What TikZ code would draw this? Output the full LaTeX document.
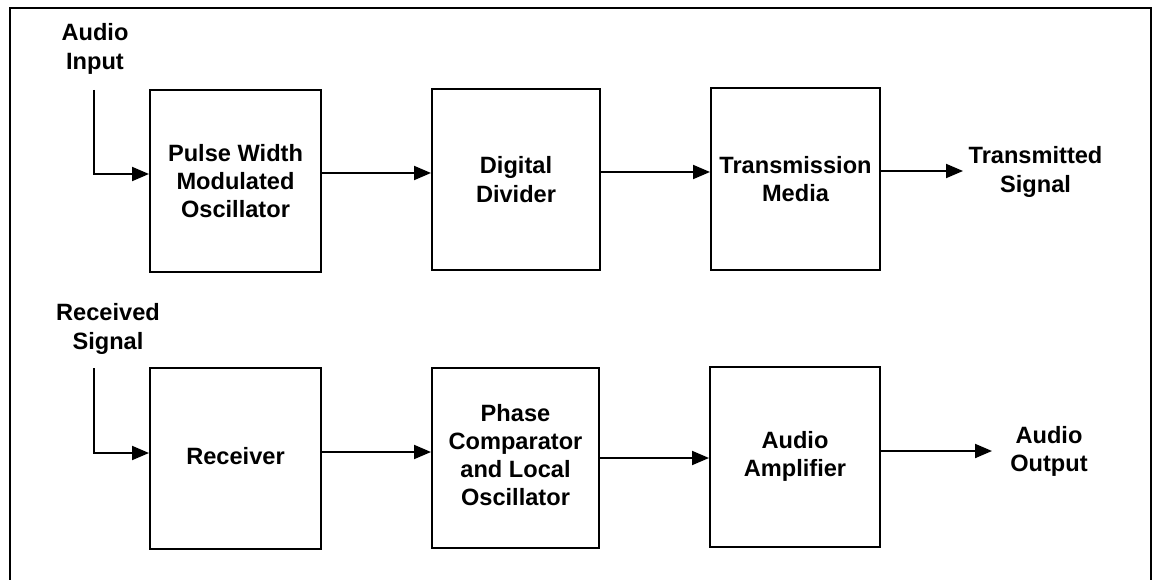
\documentclass[tikz,border=0pt]{standalone}
\usepackage{fontspec}
\setmainfont{Liberation Sans}
\usetikzlibrary{arrows.meta,calc}
\begin{document}
\begin{tikzpicture}[x=1pt,y=1pt,
  txt/.style={font=\fontsize{23.6}{28.2}\selectfont\bfseries,align=center},
  blk/.style={txt,draw,line width=2pt,minimum width=169pt,minimum height=181pt,inner sep=0pt},
  lbl/.style={txt,inner sep=0pt},
  arr/.style={line width=2pt,-{Triangle[length=17pt,width=14pt]}},
  frame/.style={line width=2.6pt}]
\useasboundingbox (0,0) rectangle (1155,579);
% frame
\coordinate (fbl) at (10,-2);
\coordinate (ftl) at (10,571);
\coordinate (ftr) at (1151,571);
\coordinate (fbr) at (1151,-2);
\draw[frame] (fbl) -- (ftl) -- (ftr) -- (fbr);
% top row
\node[blk,minimum width=171pt,minimum height=182pt] (pwm) at (235.5,398) {Pulse Width\\Modulated\\Oscillator};
\node[blk,minimum width=168pt] (dd) at (516,399.5) {Digital\\Divider};
\node[blk,minimum height=182pt] (tm) at (795.5,400) {Transmission\\Media};
\node[lbl] (ain) at (95,530) {Audio\\Input};
\node[lbl] (tsig) at (1035.5,407) {Transmitted\\Signal};
% bottom row
\node[blk,minimum width=171pt] (rec) at (235.5,120.5) {\raisebox{5pt}{Receiver}};
\node[blk,minimum width=167pt,minimum height=180pt] (pc) at (515.5,121) {\raisebox{5pt}{\begin{tabular}{@{}c@{}}Phase\\Comparator\\and Local\\Oscillator\end{tabular}}};
\node[blk,minimum width=170pt,minimum height=180pt] (aa) at (795,122) {\raisebox{6pt}{\begin{tabular}{@{}c@{}}Audio\\Amplifier\end{tabular}}};
\node[lbl] (rsig) at (108,250) {Received\\Signal};
\node[lbl] (aout) at (1049,128) {Audio\\Output};
% connectors top
\coordinate (inA) at (94,489);
\coordinate (inAc) at (94,405);
\draw[arr] (inA) -- (inAc) -- (inAc -| pwm.west);
\coordinate (yA1) at (0,406);
\draw[arr] (pwm.east |- yA1) -- (dd.west |- yA1);
\coordinate (yA2) at (0,407);
\draw[arr] (dd.east |- yA2) -- (tm.west |- yA2);
\coordinate (outT) at (963,408);
\draw[arr] (tm.east |- outT) -- (outT);
% connectors bottom
\coordinate (inB) at (94,211);
\coordinate (inBc) at (94,126);
\draw[arr] (inB) -- (inBc) -- (inBc -| rec.west);
\coordinate (yB1) at (0,127);
\draw[arr] (rec.east |- yB1) -- (pc.west |- yB1);
\coordinate (yB2) at (0,121);
\draw[arr] (pc.east |- yB2) -- (aa.west |- yB2);
\coordinate (outB) at (992,128);
\draw[arr] (aa.east |- outB) -- (outB);
\end{tikzpicture}
\end{document}
